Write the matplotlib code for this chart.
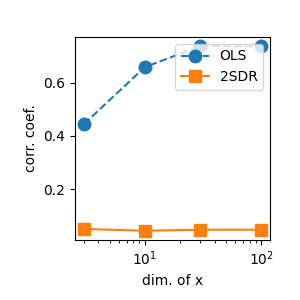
import matplotlib
matplotlib.use("Agg")
from matplotlib import pyplot as plt

dims = [3, 10, 30, 100]
ols = [0.444, 0.658, 0.737, 0.736]
sdr = [0.051, 0.044, 0.048, 0.048]

fig, ax = plt.subplots(figsize=(3, 3), dpi=100)
ax.plot(dims, ols, "o--", markersize=9, label="OLS")
ax.plot(dims, sdr, "s-", markersize=9, label="2SDR")
ax.set_xscale("log")
ax.set_yticks([0.2, 0.4, 0.6])
ax.set_xlabel("dim. of x")
ax.set_ylabel("corr. coef.")
ax.legend(loc="upper right")
fig.subplots_adjust(left=0.25, bottom=0.2, right=0.9, top=0.877)
fig.savefig("out.png")
